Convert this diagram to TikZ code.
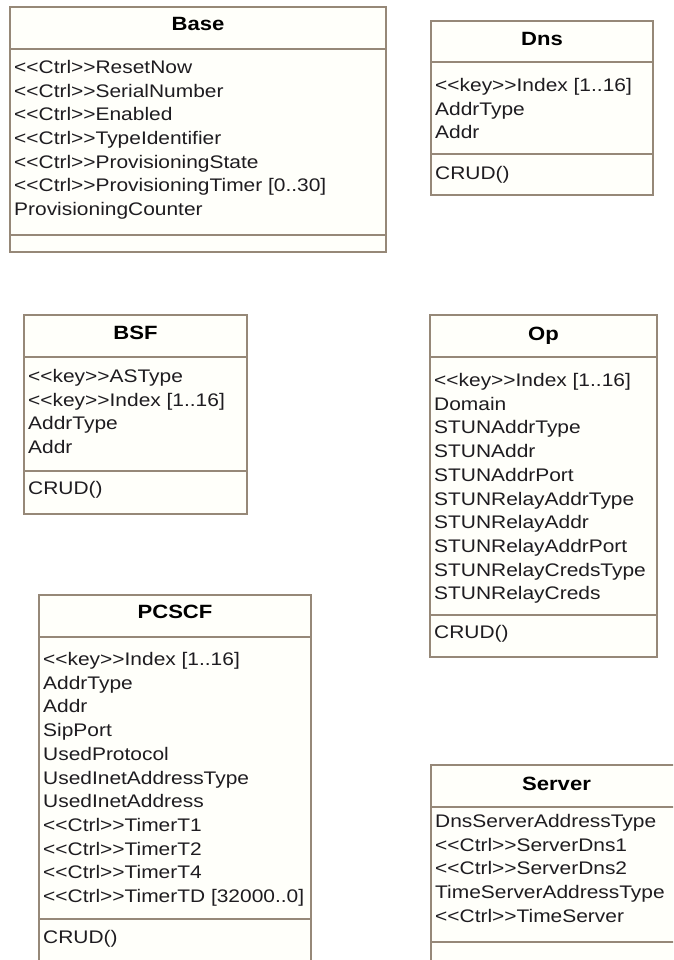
\documentclass[tikz,border=0pt]{standalone}
\usepackage{fontspec}
\setmainfont{Liberation Sans}[FakeStretch=1.15, Ligatures=TeXOff]
\definecolor{frame}{RGB}{150,136,120}
\definecolor{boxfill}{RGB}{255,255,250}
\definecolor{ink}{RGB}{30,28,32}
\tikzset{
  classbox/.style={draw=frame, fill=boxfill, line width=1.6pt, rectangle, inner sep=0pt, outer sep=0pt, anchor=north west},
  divider/.style={draw=frame, line width=1.6pt},
  attr/.style={anchor=base west, inner sep=0pt, text=ink, font=\fontsize{18.2}{20}\selectfont},
  ctitle/.style={anchor=base, inner sep=0pt, text=black, font=\fontsize{19.2}{20}\selectfont\bfseries},
}
\newcommand\attrlist[4]{%
  \foreach \t [count=\i from 0] in {#4} {
    \node[attr] (#1-\i) at (#2, #3+6.5+23.7*\i) {\t};
  }%
}
\newcommand\classframe[8]{% name, x1, y1, x2, y2, div1, div2, unused
  \node[classbox, minimum width=#4pt-#2pt, minimum height=#5pt-#3pt] (#1) at (#2,#3) {};
  \draw[divider] (#2,#6) -- (#4,#6);
  \draw[divider] (#2,#7) -- (#4,#7);
}
\begin{document}
\begin{tikzpicture}[x=1pt, y=-1pt]
\clip (0,0) rectangle (673,960);
\fill[white] (0,0) rectangle (673,960);

% Base
\classframe{base}{10}{7}{386}{252}{49}{235}{}
\node[ctitle] (base-t) at (198,31) {Base};
\attrlist{base-a}{14}{67}{{<<Ctrl>>ResetNow},{<<Ctrl>>SerialNumber},{<<Ctrl>>Enabled},{<<Ctrl>>TypeIdentifier},{<<Ctrl>>ProvisioningState},{<<Ctrl>>ProvisioningTimer [0..30]},{ProvisioningCounter}}

% Dns
\classframe{dns}{431}{21}{653}{195}{62}{154}{}
\node[ctitle] (dns-t) at (542,46) {Dns};
\attrlist{dns-a}{435}{85}{{<<key>>Index [1..16]},{AddrType},{Addr}}
\node[attr] (dns-o) at (435,173+6.5) {CRUD()};

% BSF
\classframe{bsf}{24}{315}{247}{514}{357}{471}{}
\node[ctitle] (bsf-t) at (135.5,339) {BSF};
\attrlist{bsf-a}{28}{376}{{<<key>>ASType},{<<key>>Index [1..16]},{AddrType},{Addr}}
\node[attr] (bsf-o) at (28,488+6.5) {CRUD()};

% Op
\classframe{op}{430}{315}{657}{657}{357}{615}{}
\node[ctitle] (op-t) at (543.5,340) {Op};
\attrlist{op-a}{434}{380}{{<<key>>Index [1..16]},{Domain},{STUNAddrType},{STUNAddr},{STUNAddrPort},{STUNRelayAddrType},{STUNRelayAddr},{STUNRelayAddrPort},{STUNRelayCredsType},{STUNRelayCreds}}
\node[attr] (op-o) at (434,632+6.5) {CRUD()};

% PCSCF
\classframe{pcscf}{39}{595}{311}{990}{637}{919}{}
\node[ctitle] (pcscf-t) at (175,618) {PCSCF};
\attrlist{pcscf-a}{43}{659}{{<<key>>Index [1..16]},{AddrType},{Addr},{SipPort},{UsedProtocol},{UsedInetAddressType},{UsedInetAddress},{<<Ctrl>>TimerT1},{<<Ctrl>>TimerT2},{<<Ctrl>>TimerT4},{<<Ctrl>>TimerTD [32000..0]}}
\node[attr] (pcscf-o) at (43,937+6.5) {CRUD()};

% Server
\classframe{server}{431}{765}{682}{990}{807}{942}{}
\node[ctitle] (server-t) at (556.5,790) {Server};
\attrlist{server-a}{435}{821}{{DnsServerAddressType},{<<Ctrl>>ServerDns1},{<<Ctrl>>ServerDns2},{TimeServerAddressType},{<<Ctrl>>TimeServer}}
\end{tikzpicture}
\end{document}
